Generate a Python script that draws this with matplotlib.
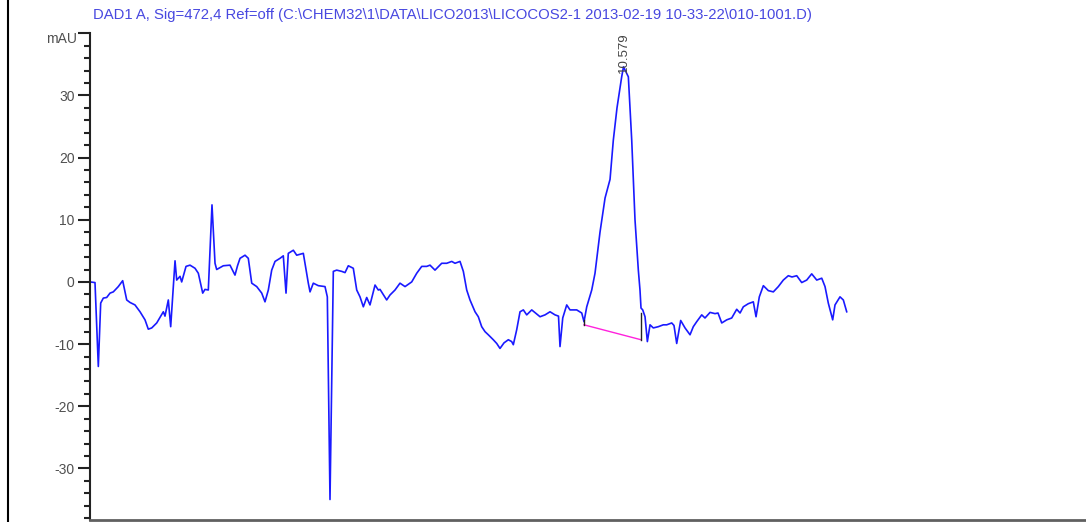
import matplotlib
matplotlib.use("Agg")
import matplotlib.pyplot as plt
from matplotlib.lines import Line2D
import numpy as np

plt.rcParams['font.family'] = ['Liberation Sans', 'DejaVu Sans']

title = r"DAD1 A, Sig=472,4 Ref=off (C:\CHEM32\1\DATA\LICO2013\LICOCOS2-1 2013-02-19 10-33-22\010-1001.D)"

# retention time (min) and signal (mAU)
time_min = [0.000, 0.099, 0.165, 0.212, 0.264, 0.331, 0.397, 0.462, 0.561, 0.648,
            0.728, 0.793, 0.892, 0.992, 1.091, 1.156, 1.224, 1.323, 1.454, 1.487,
            1.553, 1.600, 1.686, 1.719, 1.785, 1.818, 1.904, 1.983, 2.082, 2.148,
            2.235, 2.280, 2.346, 2.419, 2.479, 2.512, 2.643, 2.776, 2.875, 2.925,
            2.975, 3.074, 3.139, 3.207, 3.306, 3.405, 3.470, 3.536, 3.603, 3.669,
            3.768, 3.833, 3.887, 3.932, 4.032, 4.099, 4.230, 4.329, 4.363, 4.428,
            4.527, 4.660, 4.706, 4.759, 4.825, 4.892, 4.991, 5.057, 5.122, 5.221,
            5.289, 5.354, 5.420, 5.487, 5.552, 5.652, 5.717, 5.751, 5.883, 5.949,
            6.048, 6.147, 6.247, 6.379, 6.479, 6.578, 6.677, 6.742, 6.841, 6.974,
            7.073, 7.173, 7.238, 7.337, 7.403, 7.470, 7.535, 7.635, 7.700, 7.767,
            7.833, 7.898, 7.997, 8.065, 8.130, 8.210, 8.295, 8.362, 8.394, 8.461,
            8.527, 8.593, 8.660, 8.759, 8.924, 9.023, 9.122, 9.221, 9.290, 9.320,
            9.374, 9.453, 9.518, 9.651, 9.751, 9.796, 9.850, 9.949, 10.014, 10.113,
            10.213, 10.312, 10.377, 10.450, 10.543, 10.579, 10.675, 10.742, 10.807, 10.873,
            10.906, 10.926, 10.960, 11.006, 11.052, 11.105, 11.170, 11.269, 11.368, 11.436,
            11.535, 11.580, 11.634, 11.713, 11.799, 11.898, 11.963, 12.030, 12.130, 12.195,
            12.295, 12.394, 12.453, 12.527, 12.626, 12.725, 12.824, 12.890, 12.955, 13.054,
            13.153, 13.207, 13.272, 13.352, 13.451, 13.550, 13.649, 13.748, 13.847, 13.920,
            14.014, 14.113, 14.212, 14.311, 14.411, 14.510, 14.575, 14.640, 14.727, 14.773,
            14.872, 14.938, 15.005]
signal_mau = [0.0, -0.1, -13.6, -3.4, -2.6, -2.5, -1.8, -1.6, -0.75, 0.2,
              -2.9, -3.3, -3.7, -4.8, -6.1, -7.6, -7.4, -6.6, -4.8, -5.5,
              -2.9, -7.2, 3.4, 0.3, 0.9, 0.0, 2.5, 2.7, 2.2, 1.4,
              -1.8, -1.2, -1.3, 12.4, 3.0, 2.0, 2.6, 2.7, 1.1, 2.6,
              3.8, 4.3, 3.8, -0.2, -0.75, -1.8, -3.2, -1.3, 1.9, 3.3,
              3.8, 4.2, -1.8, 4.6, 5.1, 4.3, 4.6, -0.2, -1.6, -0.2,
              -0.6, -0.75, -2.4, -35.0, 1.7, 1.9, 1.7, 1.5, 2.6, 2.2,
              -1.3, -2.4, -4.0, -2.5, -3.7, -0.5, -1.3, -1.2, -2.9, -2.1,
              -1.3, -0.2, -0.75, 0.0, 1.4, 2.5, 2.5, 2.7, 1.9, 3.0,
              3.0, 3.3, 3.0, 3.3, 1.7, -1.3, -2.9, -4.8, -5.6, -7.2,
              -8.0, -8.5, -9.3, -9.9, -10.7, -9.8, -9.3, -9.6, -10.1, -7.7,
              -4.8, -4.5, -5.3, -4.5, -5.6, -5.3, -4.8, -5.3, -5.5, -10.4,
              -5.8, -3.7, -4.5, -4.5, -5.0, -6.4, -4.0, -1.3, 1.4, 8.0,
              13.5, 16.5, 22.8, 28.0, 33.0, 34.6, 33.0, 22.8, 10.0, 1.9,
              -1.3, -4.2, -4.5, -5.6, -9.6, -6.9, -7.4, -7.2, -6.9, -6.9,
              -6.6, -7.0, -9.9, -6.2, -7.4, -8.5, -7.2, -6.4, -5.3, -5.8,
              -4.9, -5.1, -5.0, -6.6, -6.1, -5.8, -4.4, -5.0, -4.0, -3.5,
              -3.2, -5.6, -2.4, -0.6, -1.4, -1.6, -0.75, 0.3, 1.0, 0.8,
              1.0, -0.1, 0.3, 1.3, 0.3, 0.6, -0.75, -3.4, -6.1, -3.7,
              -2.4, -2.9, -4.8]

peak_rt = 10.579
peak_label = "10.579"
baseline_t = [9.796, 10.926]
baseline_v = [-6.9, -9.3]

major_ticks = [-30, -20, -10, 0, 10, 20, 30]
minor_ticks = list(range(-38, 41, 2))

fig = plt.figure(figsize=(10.86, 5.22), dpi=100)
ax = fig.add_axes([90 / 1086, 2 / 522, 1 - 90 / 1086, (520 - 33.3) / 522])

ax.plot(time_min, signal_mau, color='#1a1aff', lw=1.2, solid_joinstyle='round')
ax.plot(baseline_t, baseline_v, color='#ff22dd', lw=1.0)
# drop lines at baseline ends
ax.plot([baseline_t[0], baseline_t[0]], [baseline_v[0], -6.2], color='#222222', lw=1.0)
ax.plot([baseline_t[1], baseline_t[1]], [baseline_v[1], -5.0], color='#222222', lw=1.0)

ax.set_xlim(0, 19.75)
ax.set_ylim(-38.3, 40)

ax.set_yticks(major_ticks + [40])
ax.set_yticklabels([str(v) for v in major_ticks] + [""])
ax.set_yticks(minor_ticks, minor=True)
ax.tick_params(axis='y', which='major', direction='out', length=9, width=1.5,
               color='#222222', labelsize=10, labelcolor='#505050', pad=2)
ax.tick_params(axis='y', which='minor', direction='out', length=4, width=1.5,
               color='#222222')
ax.set_xticks([])

for s in ['top', 'right']:
    ax.spines[s].set_visible(False)
ax.spines['left'].set_linewidth(1.5)
ax.spines['left'].set_color('#222222')
ax.spines['bottom'].set_linewidth(2)
ax.spines['bottom'].set_color('#606060')

ax.annotate("mAU", xy=(0, 40), xycoords=ax.get_yaxis_transform(),
            xytext=(-13, -6), textcoords='offset pixels',
            ha='right', va='center', fontsize=10, color='#505050')

ax.text(peak_rt, 33.6, peak_label, rotation=90, ha='center', va='bottom',
        fontsize=9.5, color='#444444')

fig.text(93 / 1086, 1 - 15 / 522, title, ha='left', va='center',
         fontsize=10.7, color='#4848e0')

fig.add_artist(Line2D([7.5 / 1086, 7.5 / 1086], [0, 1], color='black', lw=1.5,
                      transform=fig.transFigure))

fig.savefig("out.png", dpi=100)
